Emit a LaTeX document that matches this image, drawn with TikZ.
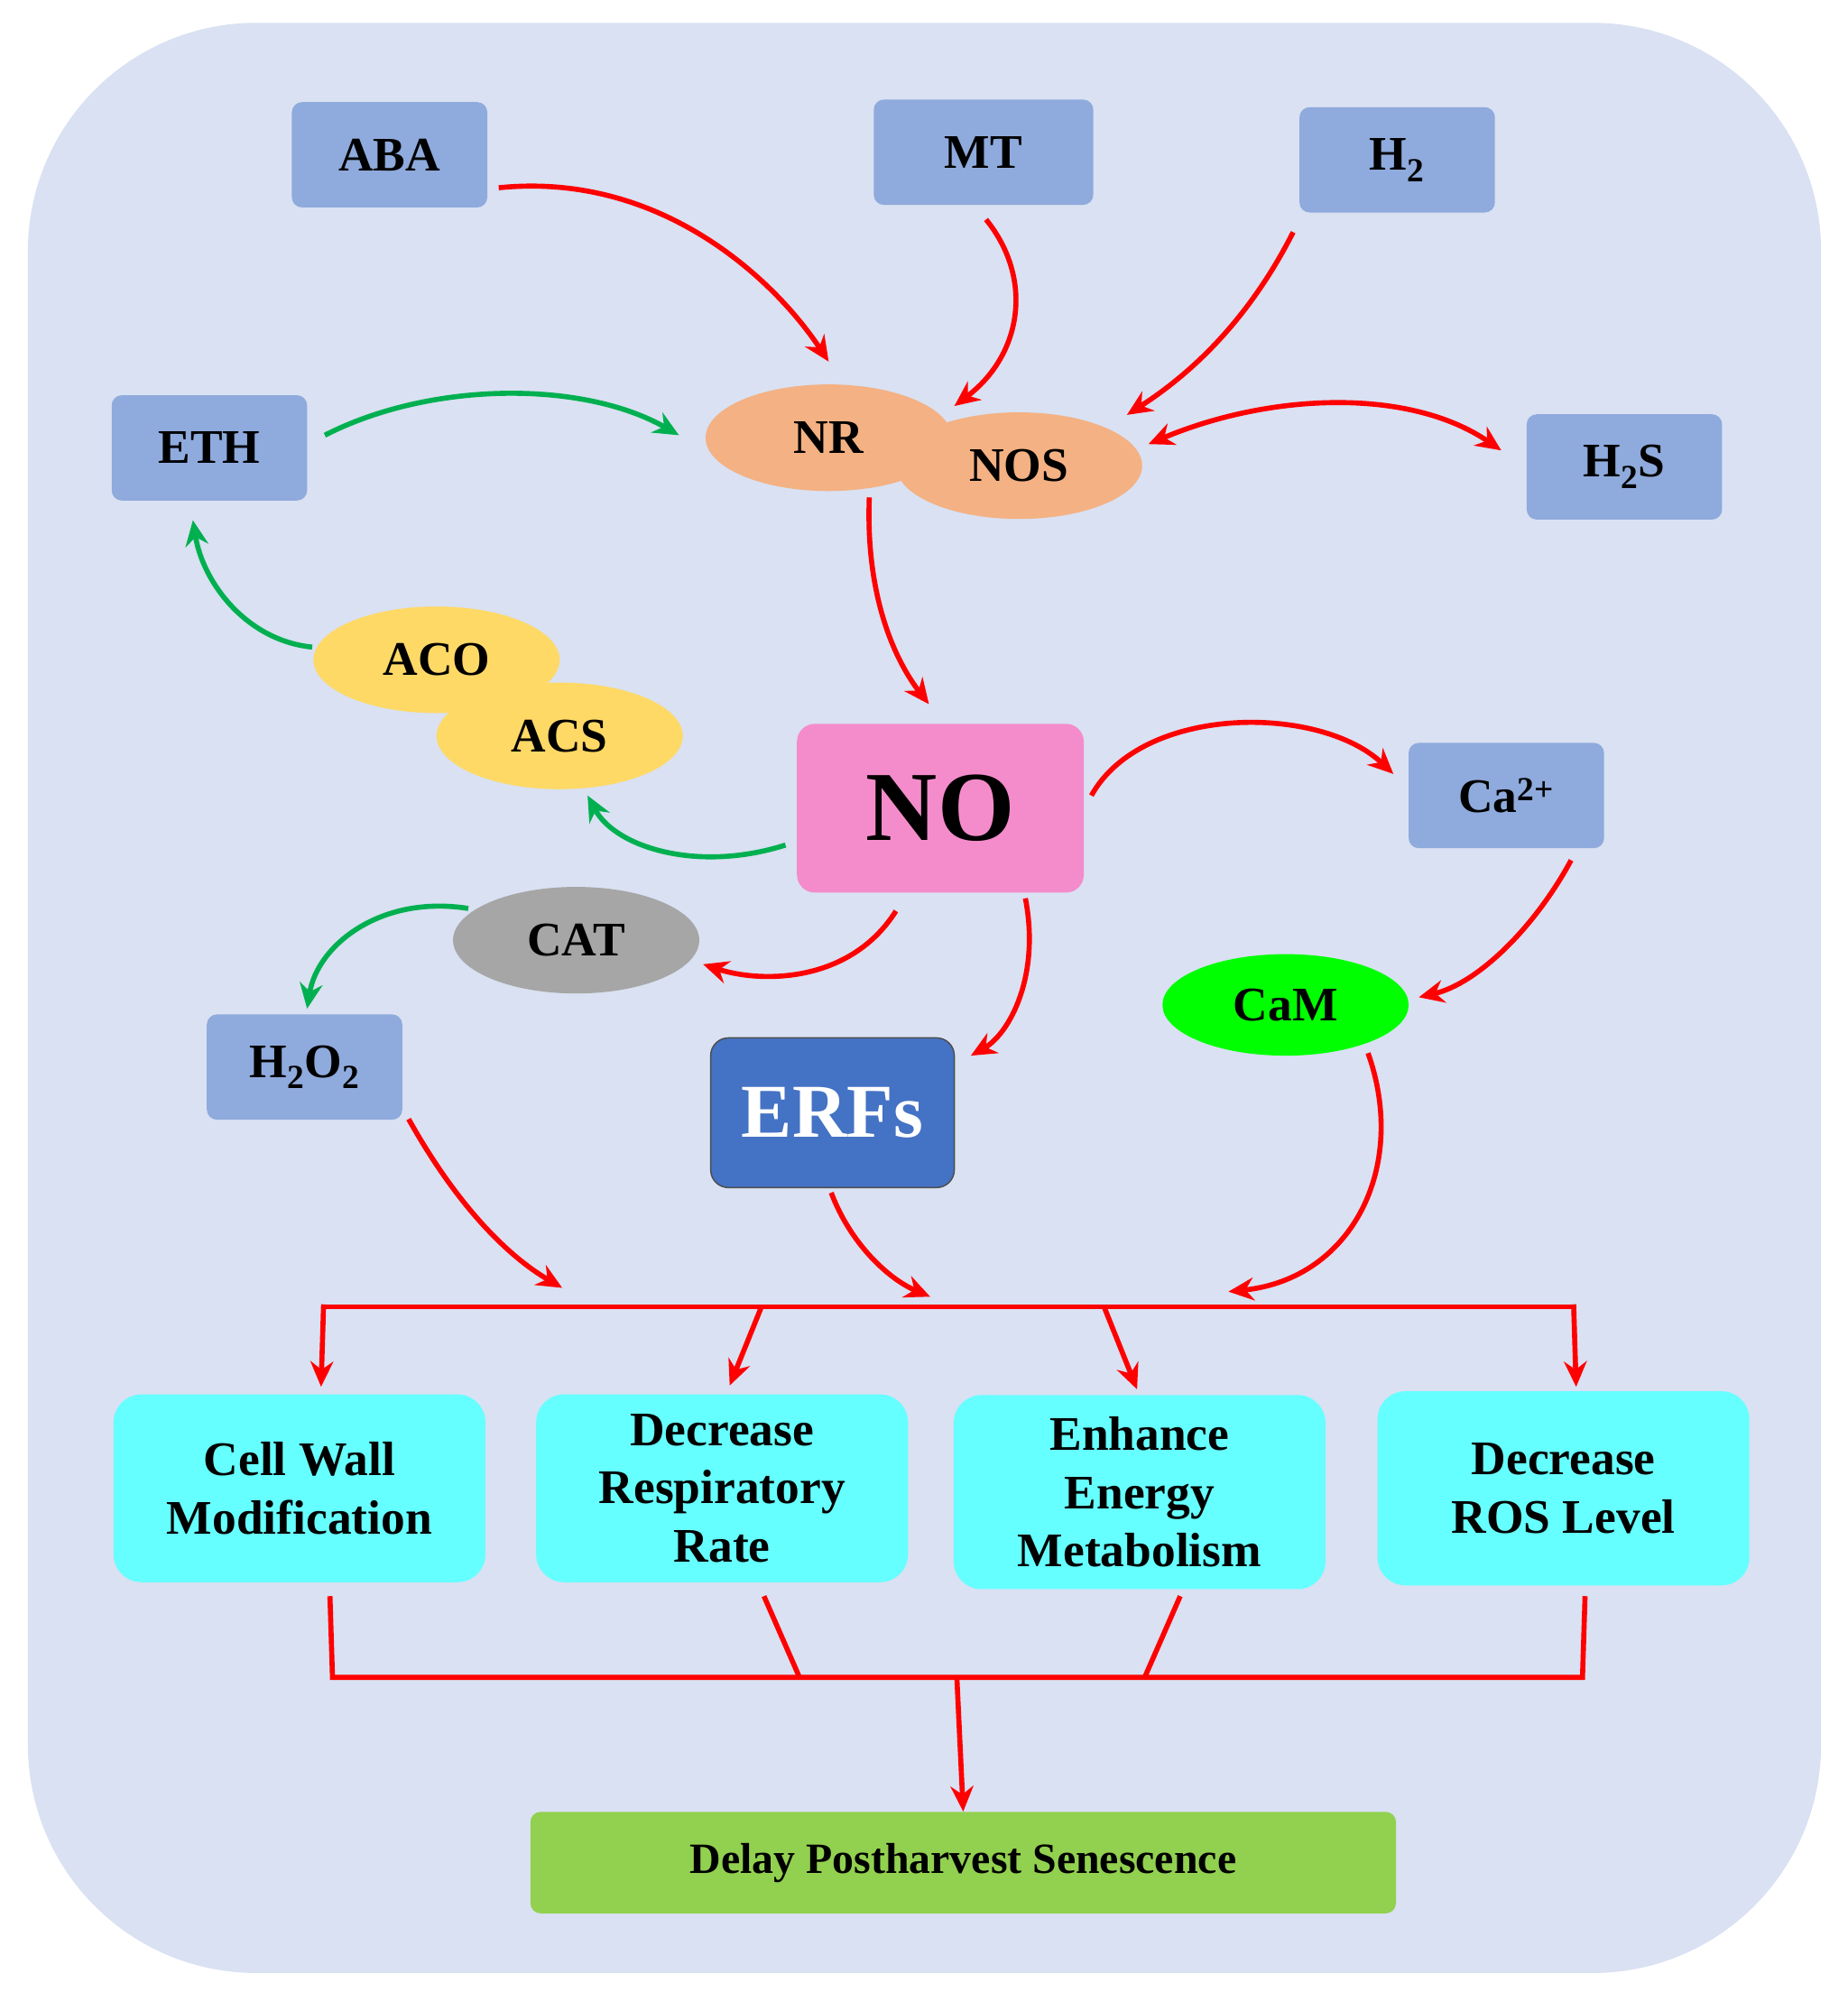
\documentclass[tikz,border=0pt]{standalone}
\usepackage{fontspec}
\setmainfont{Liberation Serif}
\usetikzlibrary{arrows.meta,shapes.geometric}
\definecolor{bg}{HTML}{D9E1F2}
\definecolor{boxb}{HTML}{8FAADC}
\definecolor{nrc}{HTML}{F4B183}
\definecolor{yel}{HTML}{FFD966}
\definecolor{pinkc}{HTML}{F48CCB}
\definecolor{erf}{HTML}{4472C4}
\definecolor{cyanc}{HTML}{66FFFF}
\definecolor{grn}{HTML}{92D050}
\definecolor{garr}{HTML}{00B050}
\begin{document}
\begin{tikzpicture}[x=1pt,y=-1pt,
  every node/.style={font=\fontsize{38}{46}\selectfont\bfseries, inner sep=0pt},
  bx/.style={fill=boxb, rounded corners=8pt, minimum width=154pt, minimum height=83pt},
  el/.style={ellipse, minimum width=194pt, minimum height=84pt},
  outbox/.style={fill=cyanc, rounded corners=22pt, minimum width=293pt, minimum height=148pt, align=center},
  ra/.style={draw=red, line width=4pt, -{Stealth[length=20pt,width=18pt]}},
  ga/.style={draw=garr, line width=4pt, -{Stealth[length=20pt,width=18pt]}},
  rl/.style={draw=red, line width=4pt}]
\useasboundingbox (0,0) rectangle (1456,1570);
\fill[bg, rounded corners=180pt] (22,18) rectangle (1435,1555);
\node[bx] (ABA) at (307,122) {ABA};
\node[bx, minimum width=173pt] (MT) at (775,120) {MT};
\node[bx] (H2) at (1101,126) {H\textsubscript{2}};
\node[bx] (ETH) at (165,353) {ETH};
\node[bx] (H2S) at (1280,368) {H\textsubscript{2}S};
\node[el, fill=nrc] (NR) at (653,345) {NR};
\node[el, fill=nrc] (NOS) at (803,367) {NOS};
\node[el, fill=yel] (ACO) at (344,520) {ACO};
\node[el, fill=yel] (ACS) at (441,580) {ACS};
\node[fill=pinkc, rounded corners=14pt, minimum width=226pt, minimum height=133pt, font=\fontsize{78}{80}\selectfont\bfseries] (NO) at (741,637) {NO};
\node[bx] (Ca) at (1187,627) {Ca\textsuperscript{2+}};
\node[el, fill=black!35] (CAT) at (454,741) {CAT};
\node[bx] (H2O2) at (240,841) {H\textsubscript{2}O\textsubscript{2}};
\node[el, fill=green, minimum height=80pt] (CaM) at (1013,792) {CaM};
\node[fill=erf, draw=black!70, line width=1pt, rounded corners=14pt, minimum width=192pt, minimum height=118pt, text=white, font=\fontsize{60}{62}\selectfont\bfseries] (ERF) at (656,877) {ERFs};
\node[outbox] (O1) at (236,1173) {Cell Wall\\Modification};
\node[outbox] (O2) at (569,1173) {Decrease\\Respiratory\\Rate};
\node[outbox, minimum height=153pt] (O3) at (898,1176) {Enhance\\Energy\\Metabolism};
\node[outbox, minimum height=153pt] (O4) at (1232,1173) {Decrease\\ROS Level};
\node[fill=grn, rounded corners=8pt, minimum width=682pt, minimum height=80pt, font=\fontsize{34}{40}\selectfont\bfseries] (D) at (759,1468) {Delay Postharvest Senescence};
\coordinate (b1) at (443,1015); \coordinate (b2) at (733,1022); \coordinate (b3) at (968,1018);
\draw[ra] (393,148) .. controls (520,135) and (610,220) .. (653,285);
\draw[ra] (777,173) .. controls (815,220) and (805,280) .. (752,320);
\draw[ra] (1019,183) .. controls (980,260) and (930,300) .. (888,327);
\draw[ra,{Stealth[length=20pt,width=18pt]}-{Stealth[length=20pt,width=18pt]}] (905,350) .. controls (1000,310) and (1110,305) .. (1183,355);
\draw[ga] (256,343) .. controls (340,300) and (460,300) .. (535,343);
\draw[ra] (685,392) .. controls (682,470) and (705,520) .. (732,555);
\draw[ga] (619,666) .. controls (550,688) and (485,668) .. (463,627);
\draw[ga] (246,510) .. controls (195,505) and (160,460) .. (152,410);
\draw[ra] (860,627) .. controls (900,555) and (1040,555) .. (1098,610);
\draw[ra] (1238,678) .. controls (1210,730) and (1165,775) .. (1118,786);
\draw[ra] (706,718) .. controls (670,775) and (600,775) .. (554,760);
\draw[ga] (369,716) .. controls (300,705) and (250,745) .. (242,795);
\draw[ra] (808,708) .. controls (820,770) and (795,815) .. (765,832);
\draw[ra] (322,882) .. controls (360,950) and (400,990) .. (b1);
\draw[ra] (655,940) .. controls (670,980) and (700,1008) .. (b2);
\draw[ra] (1078,830) .. controls (1110,920) and (1065,1008) .. (b3);
\draw[rl] (255,1030) -- (1240,1030);
\draw[ra] (255,1028) -- (253,1093);
\draw[ra] (600,1030) -- (575,1092);
\draw[ra] (870,1030) -- (896,1095);
\draw[ra] (1240,1028) -- (1242,1093);
\draw[rl] (260,1258) -- (262,1322) -- (1247,1322) -- (1249,1258);
\draw[rl] (602,1258) -- (630,1322);
\draw[rl] (930,1258) -- (902,1322);
\draw[ra] (754,1322) -- (D.north);
\end{tikzpicture}
\end{document}
